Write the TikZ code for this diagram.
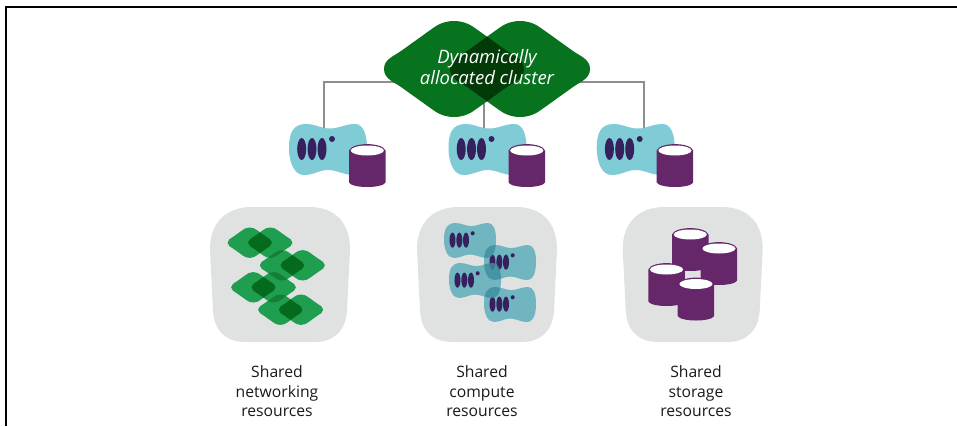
\documentclass[tikz,border=0pt]{standalone}
\usepackage{fontspec}
\setmainfont{Open Sans}
\definecolor{dkgreen}{HTML}{08731F}
\definecolor{dkover}{HTML}{033B08}
\definecolor{ltgreen}{HTML}{1F9E50}
\definecolor{ltover}{HTML}{056B1C}
\definecolor{ltmid}{HTML}{147F3A}
\definecolor{teal}{HTML}{7FCCD6}
\definecolor{tealp}{HTML}{70B5C0}
\definecolor{tealo}{HTML}{3F8F9E}
\definecolor{ink}{HTML}{36205E}
\definecolor{plum}{HTML}{66276A}
\definecolor{panelgray}{HTML}{E0E2E2}
\definecolor{wire}{HTML}{8E8E8E}
\definecolor{labelink}{HTML}{1A1A1A}
\newcommand\diap{(-70,0) .. controls (-70,-10) and (-60,-12.8) .. (-52,-18.7) -- (-22,-40.2) .. controls (-17,-44) and (-10,-48) .. (0,-48) .. controls (10,-48) and (17,-44) .. (22,-40.2) -- (52,-18.7) .. controls (60,-12.8) and (70,-10) .. (70,0) .. controls (70,10) and (60,12.8) .. (52,18.7) -- (22,40.2) .. controls (17,44) and (10,48) .. (0,48) .. controls (-10,48) and (-17,44) .. (-22,40.2) -- (-52,18.7) .. controls (-60,12.8) and (-70,10) .. (-70,0) -- cycle}
\newcommand\blobp{(0,24) .. controls (0,9) and (4,0) .. (17,0) .. controls (26,0) and (32,4.5) .. (41,4.5) .. controls (50,4.5) and (56,0) .. (66,0) .. controls (74,0) and (78,10) .. (78,24) .. controls (78,38) and (75,51) .. (64,51) .. controls (55,51) and (48,46) .. (39,46) .. controls (30,46) and (25,51) .. (15,51) .. controls (5,51) and (0,38) .. (0,24) -- cycle}
\newcommand\inkmarks{%
  \fill[ink] (12.7,25) ellipse [x radius=4.5,y radius=11];
  \fill[ink] (23,25) ellipse [x radius=4.5,y radius=11];
  \fill[ink] (33,25) ellipse [x radius=4.5,y radius=11];
  \fill[ink] (43,15) circle [radius=3];}
\newcommand\cyl[2]{%
  \begin{scope}[shift={(#1,#2)}]
    \fill[plum] (0,6.5) -- (0,38.5) .. controls (3,44.5) and (33.5,44.5) .. (36.5,38.5) -- (36.5,6.5) .. controls (33.5,-2) and (3,-2) .. (0,6.5) -- cycle;
    \fill[white] (18.25,6.5) ellipse [x radius=16.6,y radius=5];
  \end{scope}}
\newcommand\topserver[2]{%
  \begin{scope}[shift={(#1,#2)}]
    \fill[teal] \blobp;
    \inkmarks
  \end{scope}
  \cyl{#1+60}{#2+20}}
\newcommand\panelbg[2]{%
  \fill[panelgray,shift={(#1,#2)},xscale=.993] (42,0) -- (100,0) .. controls (126,0) and (141,16) .. (141,42) -- (138,103) .. controls (137,124) and (124,135) .. (106,135) -- (36,135) .. controls (16,135) and (4,124) .. (3,103) -- (0,42) .. controls (0,16) and (16,0) .. (42,0) -- cycle;}
\tikzset{
  wireline/.style={draw=wire,line width=2.2pt},
  lbl/.style={text=labelink,align=center,font=\fontsize{15.7}{19.5}\selectfont,inner sep=0pt},
  dia/.style n args={3}{shift={(#1,#2)},scale=#3},
  bA/.style={shift={(444,223)},xscale=.667,yscale=.686},
  bB/.style={shift={(484,245)},xscale=.667,yscale=.686},
  bC/.style={shift={(449,263)},xscale=.667,yscale=.686},
  bD/.style={shift={(484,287)},xscale=.667,yscale=.686}
}
\begin{document}
\begin{tikzpicture}[x=1pt,y=-1pt]
\useasboundingbox (0,0) rectangle (957,426);
\fill[white] (0,0) rectangle (957,426);
% frame
\draw[line width=1.3pt,black] (6,426) -- (6,7) -- (957,7);
% connector ends
\coordinate (clusterL) at (400,82);
\coordinate (clusterR) at (575,82);
\coordinate (clusterB) at (484,100);
\coordinate (srvL) at (324,128);
\coordinate (srvM) at (484,128);
\coordinate (srvR) at (644,128);
\draw[wireline] (clusterL) -| (srvL);
\draw[wireline] (clusterR) -| (srvR);
\draw[wireline] (clusterB) -- (srvM);
% cluster
\fill[dkgreen,dia={454}{69}{1}] \diap;
\fill[dkgreen,dia={520}{69}{1}] \diap;
\begin{scope}
  \clip[dia={454}{69}{1}] \diap;
  \fill[dkover,dia={520}{69}{1}] \diap;
\end{scope}
% top servers
\topserver{289}{124}
\topserver{448.5}{124}
\topserver{596.7}{124}
% panels
\panelbg{210}{207}
\panelbg{417}{207}
\panelbg{622.7}{207}
% panel 1
\foreach \cx/\cy in {249.7/242.7,270.3/242.7,282/265.3,302.7/265.3,253.3/287.3,273.7/287.3,280.3/309.7,301/309.7}{
  \fill[ltgreen,dia={\cx}{\cy}{.317}] \diap;
}
\foreach \ax/\ay/\bx/\by/\col in {249.7/242.7/270.3/242.7/ltover,282/265.3/302.7/265.3/ltover,253.3/287.3/273.7/287.3/ltover,280.3/309.7/301/309.7/ltover,270.3/242.7/282/265.3/ltmid,282/265.3/273.7/287.3/ltmid,273.7/287.3/280.3/309.7/ltmid}{
  \begin{scope}
    \clip[dia={\ax}{\ay}{.317}] \diap;
    \fill[\col,dia={\bx}{\by}{.317}] \diap;
  \end{scope}
}
% panel 2
\foreach \b in {bA,bB,bC,bD}{
  \fill[tealp,\b] \blobp;
}
\foreach \b in {bA,bB,bC,bD}{
  \begin{scope}[\b]
    \inkmarks
  \end{scope}
}
\foreach \p/\q in {bA/bB,bB/bC,bC/bD}{
  \begin{scope}
    \clip[\p] \blobp;
    \fill[tealo,fill opacity=.82,\q] \blobp;
  \end{scope}
}
% panel 3
\cyl{672}{228}
\cyl{700.7}{242}
\cyl{648.3}{263}
\cyl{677.7}{277.5}
% texts
\node[text=white,align=center,inner sep=0pt,font=\fontsize{18.5}{21}\selectfont\itshape] (cluster) at (487,67.5) {Dynamically\\allocated cluster};
\node[lbl] (labelNet) at (277,391.5) {Shared\\networking\\resources};
\node[lbl] (labelCmp) at (482,391.5) {Shared\\compute\\resources};
\node[lbl] (labelSto) at (696,391.5) {Shared\\storage\\resources};
\end{tikzpicture}
\end{document}
